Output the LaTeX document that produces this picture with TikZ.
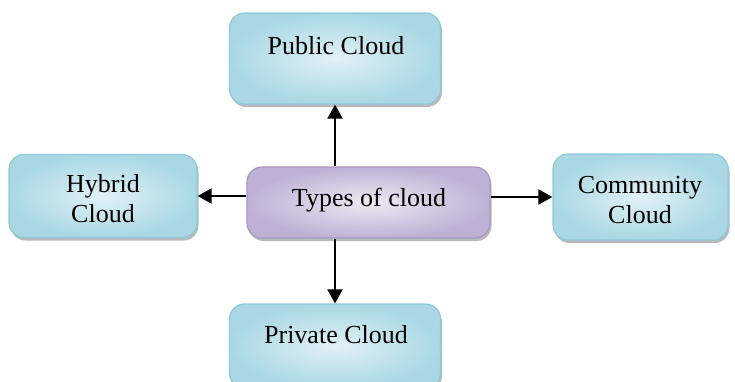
\documentclass[tikz,border=0pt]{standalone}
\usepackage{fontspec}
\setmainfont{Liberation Serif}
\usetikzlibrary{arrows.meta,shadows}
\definecolor{cyedge}{HTML}{8CCAD8}
\definecolor{cymid}{HTML}{A9D8E4}
\definecolor{cylight}{HTML}{E2F1F5}
\definecolor{puedge}{HTML}{A898C2}
\definecolor{pumid}{HTML}{BFB1D5}
\definecolor{pulight}{HTML}{EEE9F3}
\tikzset{
  box/.style={rectangle, rounded corners=15pt, draw=cyedge, line width=1.2pt,
    inner color=cylight, outer color=cymid,
    drop shadow={shadow xshift=1.5pt, shadow yshift=-3pt, fill=black!45, opacity=0.6}},
  cbox/.style={box, draw=puedge, inner color=pulight, outer color=pumid},
  lbl/.style={align=center, font=\fontsize{26}{30}\selectfont, inner sep=0pt},
  arr/.style={line width=2pt, -{Triangle[length=14pt,width=15pt]}}
}
\begin{document}
\begin{tikzpicture}[x=1pt,y=-1pt]
\useasboundingbox (0,0) rectangle (735,381);
\node[box, minimum width=211pt, minimum height=91pt] (pub) at (335,58.5) {};
\node[cbox, minimum width=243pt, minimum height=71pt] (types) at (368.5,202.5) {};
\node[box, minimum width=188pt, minimum height=83pt] (hyb) at (103,196) {};
\node[box, minimum width=175pt, minimum height=86pt] (com) at (640.5,197) {};
\node[box, minimum width=211pt, minimum height=84pt] (priv) at (335,346) {};
\node[lbl] (pubt) at (336,46) {Public Cloud};
\node[lbl] (typest) at (369,200) {Types of cloud};
\node[lbl] (hybt) at (103,199) {Hybrid\\Cloud};
\node[lbl] (comt) at (640,200) {Community\\Cloud};
\node[lbl] (privt) at (336,335) {Private Cloud};
\draw[arr] (types.north -| pub.south) -- (pub.south);
\draw[arr] (types.south -| priv.north) -- (priv.north);
\draw[arr] (types.west |- hyb.east) -- (hyb.east);
\draw[arr] (types.east |- com.west) -- (com.west);
\end{tikzpicture}
\end{document}
